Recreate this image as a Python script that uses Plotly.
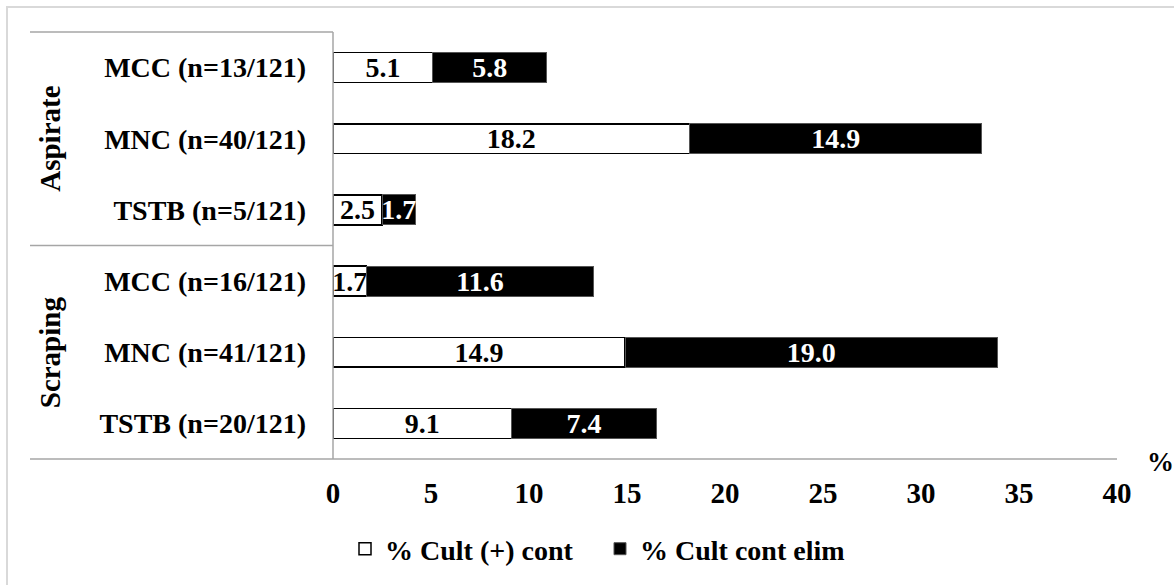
import plotly.graph_objects as go

categories = ["MCC (n=13/121)", "MNC (n=40/121)", "TSTB (n=5/121)",
              "MCC (n=16/121)", "MNC (n=41/121)", "TSTB (n=20/121)"]
groups = ["Aspirate", "Scraping"]
cult_pos_cont = [5.1, 18.2, 2.5, 1.7, 14.9, 9.1]
cult_cont_elim = [5.8, 14.9, 1.7, 11.6, 19.0, 7.4]
series_names = ["% Cult (+) cont", "% Cult cont elim"]
x_ticks = [0, 5, 10, 15, 20, 25, 30, 35, 40]

FONT = "Liberation Serif"
W, H = 1174, 585
L, R, T, B = 333, 1117, 32, 460
PW, PH = R - L, B - T


def px_x(p):
    return (p - L) / PW


def px_y(p):
    return (B - p) / PH


fig = go.Figure()
fig.add_trace(go.Bar(
    y=categories, x=cult_pos_cont, orientation="h", name=series_names[0],
    marker=dict(color="white", line=dict(color="black", width=1.5)),
    text=[f"{v:.1f}" for v in cult_pos_cont], textposition="inside",
    insidetextanchor="middle", textangle=0, constraintext="none",
    textfont=dict(family=FONT, size=28, color="black", weight="bold"),
    cliponaxis=False,
))
fig.add_trace(go.Bar(
    y=categories, x=cult_cont_elim, orientation="h", name=series_names[1],
    marker=dict(color="black", line=dict(color="#555555", width=1)),
    text=[f"{v:.1f}" for v in cult_cont_elim], textposition="inside",
    insidetextanchor="middle", textangle=0, constraintext="none",
    textfont=dict(family=FONT, size=28, color="white", weight="bold"),
    cliponaxis=False,
))

LINE = "#a6a6a6"
shapes = [
    dict(type="line", xref="paper", yref="paper", x0=px_x(30), x1=0, y0=1, y1=1,
         line=dict(color=LINE, width=1.5)),
    dict(type="line", xref="paper", yref="paper", x0=px_x(30), x1=0, y0=0.5, y1=0.5,
         line=dict(color=LINE, width=1.5)),
    dict(type="line", xref="paper", yref="paper", x0=px_x(30), x1=1, y0=0, y1=0,
         line=dict(color=LINE, width=1.5)),
    dict(type="line", xref="paper", yref="paper", x0=0, x1=0, y0=0, y1=1,
         line=dict(color=LINE, width=1.5)),
    dict(type="rect", xref="paper", yref="paper", x0=px_x(7), x1=px_x(1300),
         y0=px_y(700), y1=px_y(7), line=dict(color="#d9d9d9", width=2),
         layer="below"),
]

annotations = [
    dict(text=groups[0], xref="paper", yref="paper", x=px_x(50), y=px_y(139),
         textangle=-90, showarrow=False, xanchor="center", yanchor="middle",
         font=dict(family=FONT, size=29, color="black", weight="bold")),
    dict(text=groups[1], xref="paper", yref="paper", x=px_x(50), y=px_y(353),
         textangle=-90, showarrow=False, xanchor="center", yanchor="middle",
         font=dict(family=FONT, size=29, color="black", weight="bold")),
    dict(text="%", xref="paper", yref="paper", x=px_x(1146), y=px_y(463),
         showarrow=False, xanchor="left", yanchor="middle", borderpad=0,
         font=dict(family=FONT, size=27, color="black", weight="bold")),
]

fig.update_layout(
    width=W, height=H, autosize=False,
    margin=dict(l=L, r=W - R, t=T, b=H - B, pad=0),
    barmode="stack", bargap=0.58,
    plot_bgcolor="white", paper_bgcolor="white",
    font=dict(family=FONT, size=28, color="black", weight="bold"),
    shapes=shapes, annotations=annotations,
    legend=dict(orientation="h", x=px_x(600), xanchor="center",
                y=px_y(549), yanchor="middle",
                font=dict(family=FONT, size=28, color="black", weight="bold"),
                itemwidth=30, entrywidth=210, traceorder="normal"),
    xaxis=dict(range=[0, 40], tickvals=x_ticks, ticktext=[str(v) for v in x_ticks],
               showgrid=False, zeroline=False, showline=False, ticks="",
               ticklabelstandoff=14,
               tickfont=dict(family=FONT, size=29, color="black", weight="bold")),
    yaxis=dict(categoryorder="array", categoryarray=categories,
               autorange="reversed", showgrid=False, zeroline=False,
               showline=False, ticks="", ticklabelstandoff=26,
               tickfont=dict(family=FONT, size=28, color="black", weight="bold")),
)

fig.write_html("out.html", config={"displayModeBar": False},
               post_script="document.body.style.margin='0';document.body.style.padding='0';")
